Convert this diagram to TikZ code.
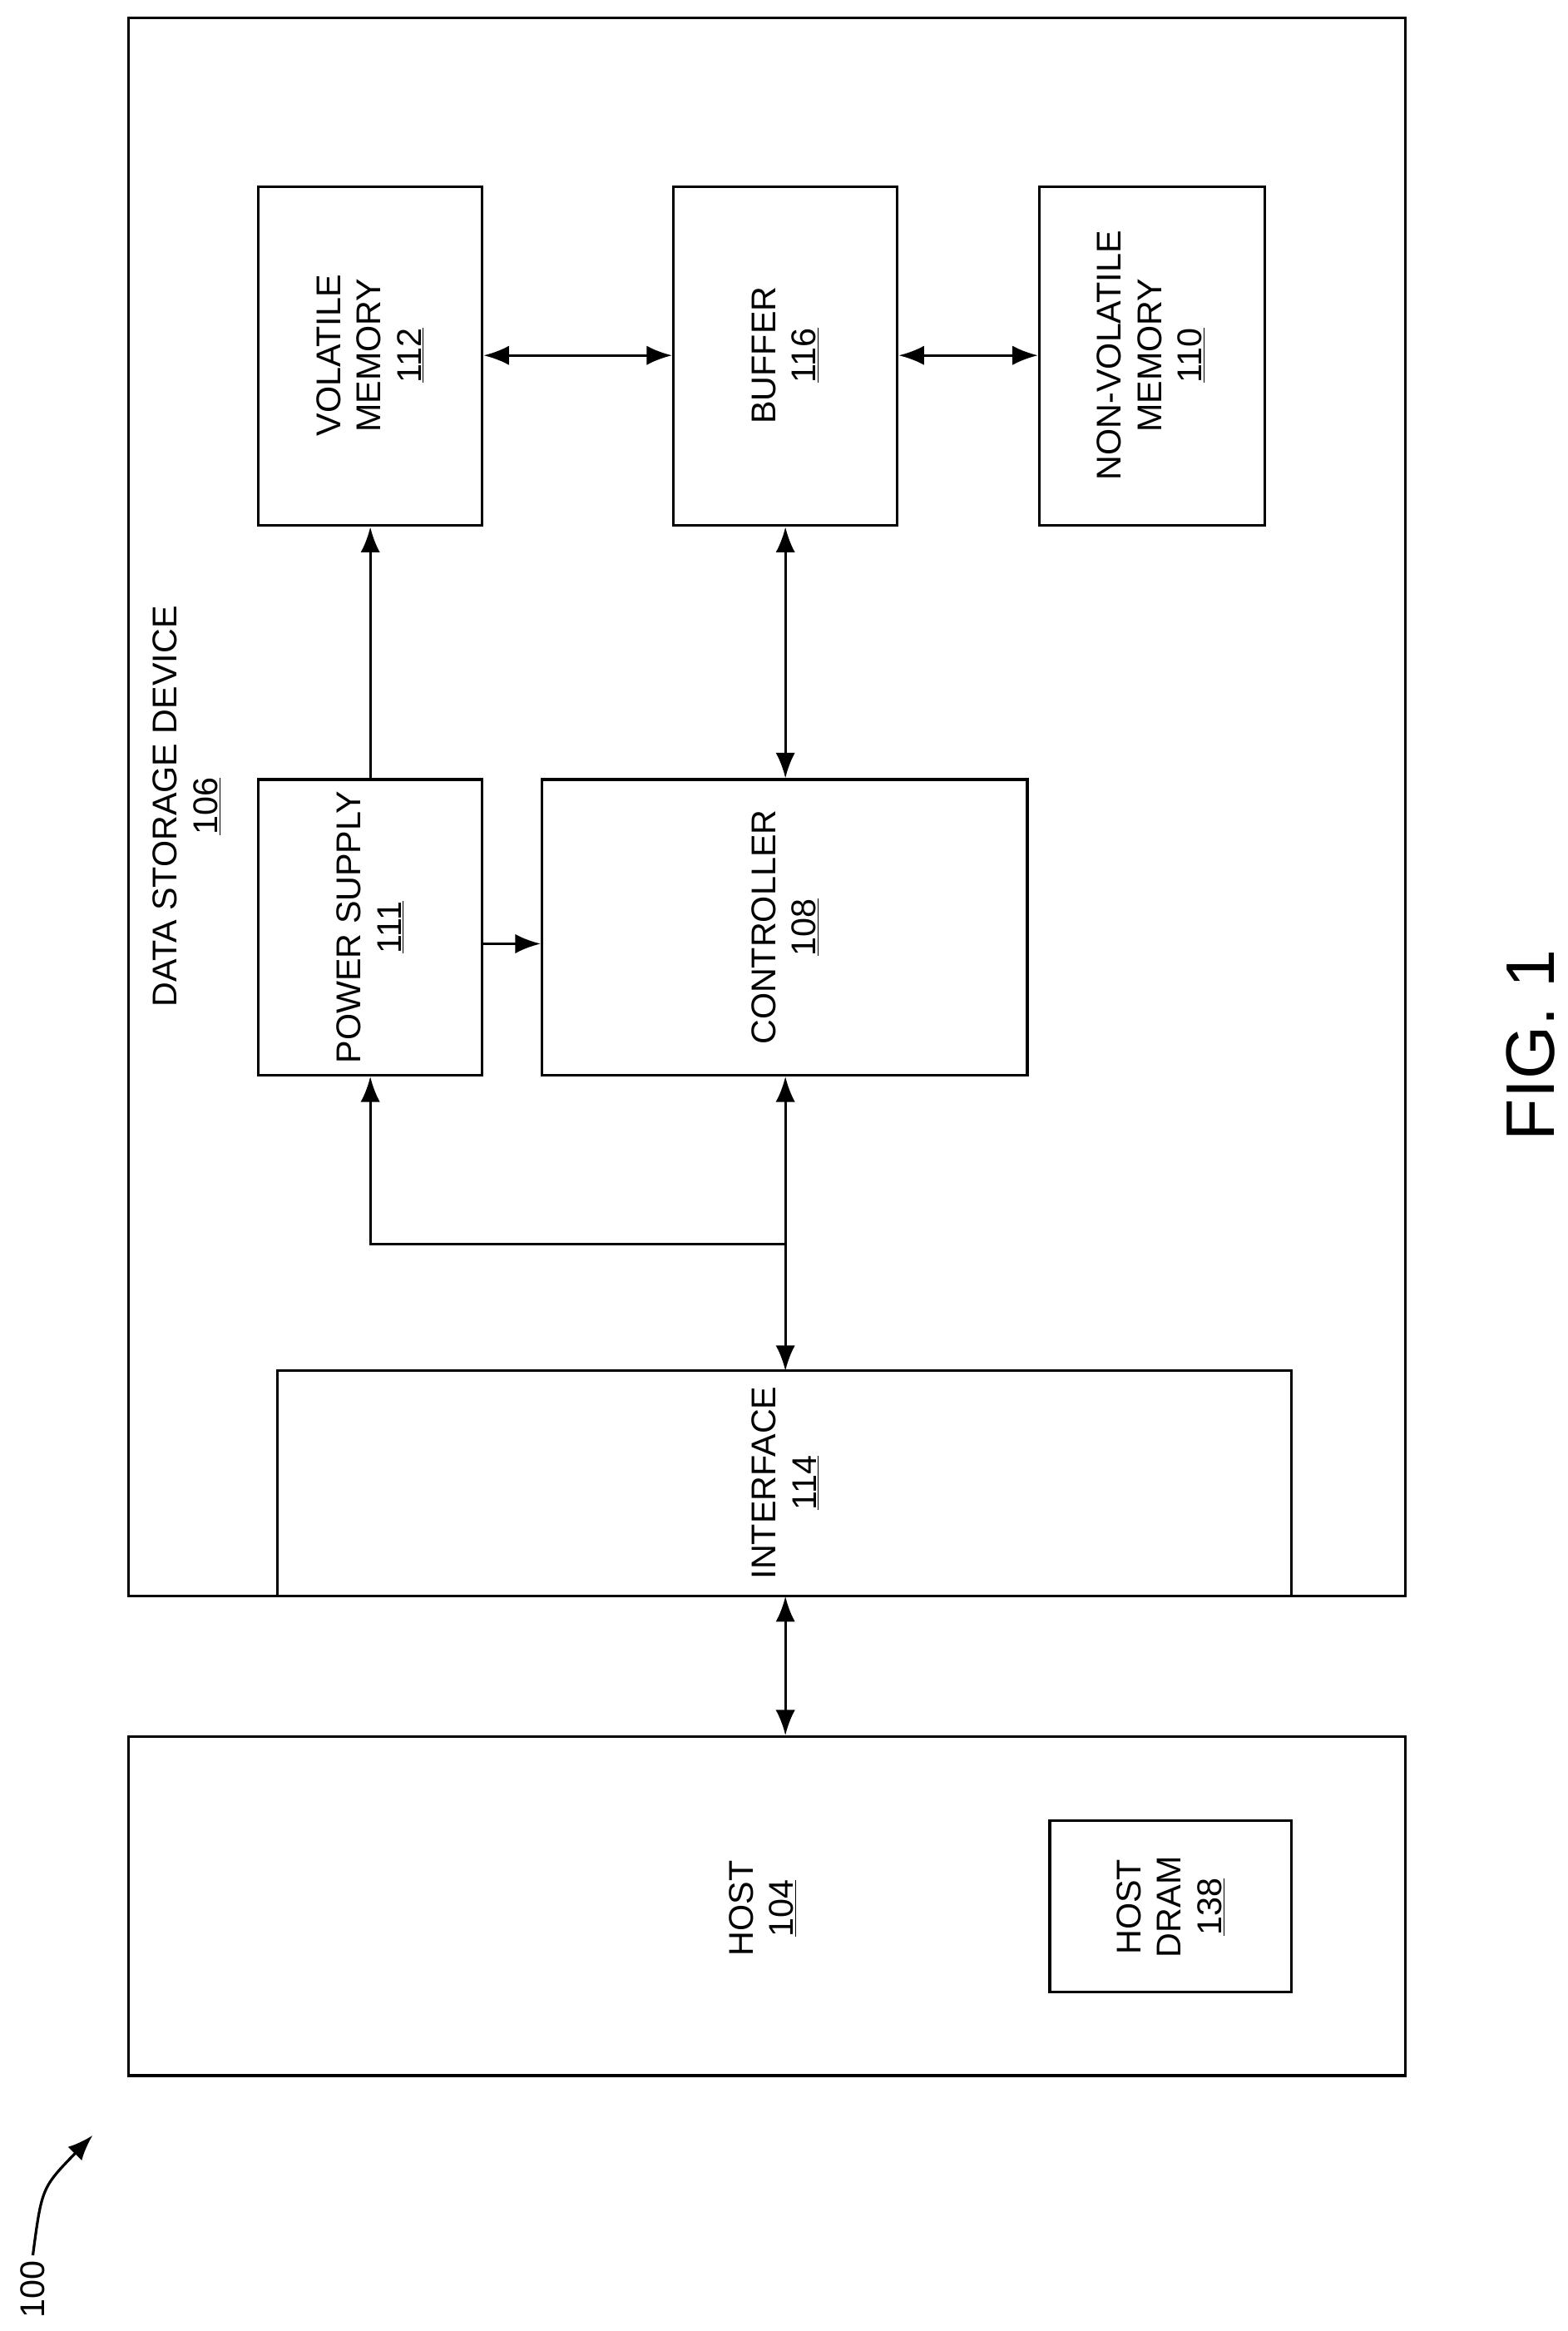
\documentclass[tikz,border=0pt]{standalone}
\usepackage{fontspec}
\setmainfont{Liberation Sans}
\usetikzlibrary{arrows.meta}
\begin{document}
\begin{tikzpicture}[x=1pt,y=-1pt,
  lab/.style={rotate=90,align=center,font=\fontsize{23}{27}\selectfont},
  arr/.style={line width=1.8pt,-{Latex[length=17pt,width=13pt]}},
  barr/.style={line width=1.8pt,{Latex[length=17pt,width=13pt]}-{Latex[length=17pt,width=13pt]}}]
\useasboundingbox (0,0) rectangle (1050,1561);
\newcommand{\bx}[5]{\node[draw,line width=1.8pt,minimum width=#4-#2,minimum height=#5-#3,inner sep=0pt] (#1) at ({(#2+#4)/2},{(#3+#5)/2}) {};}
\bx{dsd}{86}{12}{941}{1069}
\bx{vm}{173}{125}{323}{352}
\bx{buf}{451}{125}{601}{352}
\bx{nvm}{696}{125}{847}{352}
\bx{ps}{173}{522}{323}{720}
\bx{ctl}{363}{522}{688}{720}
\bx{host}{86}{1163}{941}{1390}
\bx{dram}{703}{1219}{865}{1334}
\draw[line width=1.8pt] (186,1069) -- (186,918) -- (865,918) -- (865,1069);
\coordinate (ifc) at (526,918);
\node[lab] at (248,238) {VOLATILE\\MEMORY\\\underline{112}};
\node[lab] at (526,238) {BUFFER\\\underline{116}};
\node[lab] at (771,238) {NON-VOLATILE\\MEMORY\\\underline{110}};
\node[lab] at (248,621) {POWER SUPPLY\\\underline{111}};
\node[lab] at (526,621) {CONTROLLER\\\underline{108}};
\node[lab] at (526,993) {INTERFACE\\\underline{114}};
\node[lab] at (511,1278) {HOST\\\underline{104}};
\node[lab] at (784,1277) {HOST\\DRAM\\\underline{138}};
\node[lab] at (125,540) {DATA STORAGE DEVICE\\\underline{106}};
\node[rotate=90,font=\fontsize{46}{50}\selectfont] (fig) at (1025,700) {FIG. 1};
\node[rotate=90,font=\fontsize{23}{27}\selectfont] (n100) at (22,1533) {100};
\coordinate (c100) at (62,1430);
\draw[arr] (n100.east) .. controls (28,1465) .. (c100);
\draw[barr] (vm.east |- 0,238) -- (buf.west |- 0,238);
\draw[barr] (buf.east |- 0,238) -- (nvm.west |- 0,238);
\draw[barr] (buf.south) -- (ctl.north -| buf.south);
\draw[arr] (ps.north) -- (vm.south);
\draw[arr] (ps.east |- 0,632) -- (ctl.west |- 0,632);
\draw[barr] (ifc) -- (ctl.south -| ifc);
\coordinate (j) at (526,833);
\draw[arr] (j) -- (248,833) -- (ps.south);
\draw[barr] (host.north -| ifc) -- (526,1069);
\end{tikzpicture}
\end{document}
